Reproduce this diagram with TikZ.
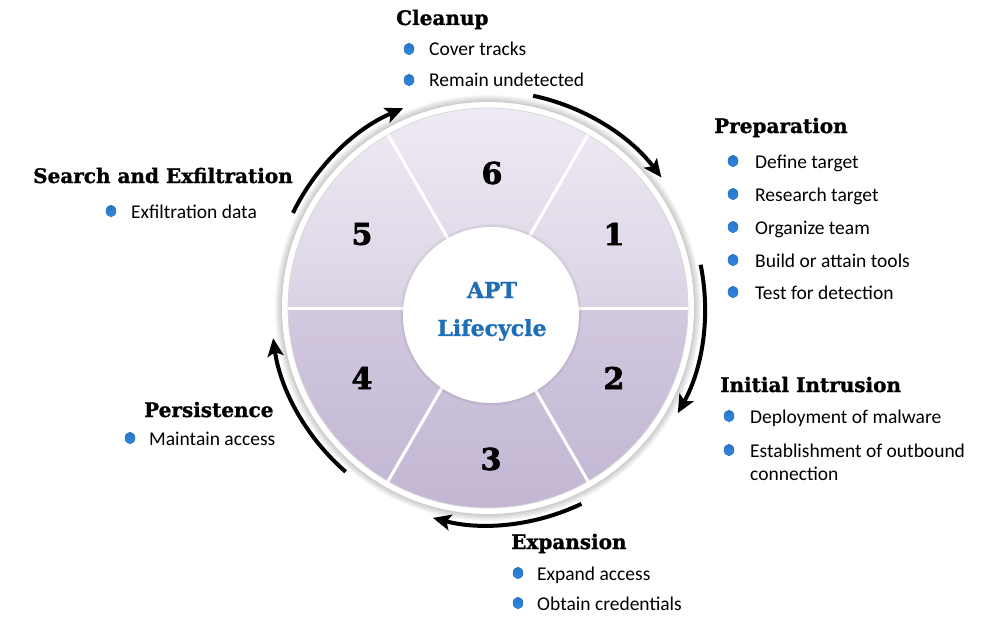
\documentclass[tikz,border=0pt]{standalone}
\usepackage{fontspec}
\setmainfont{Carlito}
\newfontfamily\slab[FakeBold=1.2]{DejaVu Serif}
\newfontfamily\slabheavy[FakeBold=2.2]{DejaVu Serif}
\usetikzlibrary{arrows.meta,shapes.geometric,calc}
\definecolor{uppertop}{HTML}{EFEBF4}
\definecolor{upperbot}{HTML}{DBD3E5}
\definecolor{lowertop}{HTML}{D2C8DF}
\definecolor{lowerbot}{HTML}{C2B6D3}
\definecolor{aptblue}{HTML}{1F6FB8}
\definecolor{bulblue}{HTML}{2F8AE6}
\begin{document}
\begin{tikzpicture}[x=1pt,y=-1pt,
  title/.style={anchor=base west, inner sep=0pt, font=\slab\bfseries\fontsize{20}{24}\selectfont},
  item/.style={anchor=base west, inner sep=0pt, font=\fontsize{19.5}{24}\selectfont},
  bul/.style={ellipse, minimum width=10pt, minimum height=11.5pt, inner sep=0pt,
    draw=bulblue!80!black, line width=0.5pt,
    top color=bulblue!85!black, middle color=white!75!bulblue, bottom color=bulblue},
  num/.style={inner sep=0pt, font=\slabheavy\bfseries\fontsize{30}{30}\selectfont},
  apt/.style={inner sep=0pt, text=aptblue, font=\slab\bfseries\fontsize{22}{26}\selectfont},
  divider/.style={white, line width=3pt},
  cyclearrow/.style={line width=4pt, -{Stealth[length=18pt,width=16pt,inset=4pt]}}]
\useasboundingbox (0,0) rectangle (999,618);
\coordinate (c) at (488,308);
\coordinate (hub) at (491,315);

% soft shadow round the disk
\foreach \r in {213,212,...,207}
  \fill[black, opacity=0.03] (c) circle (\r);
% white rim
\fill[white] (c) circle (206);

% lavender disk, upper and lower halves
\begin{scope}
  \clip (c) circle (200);
  \shade[top color=uppertop, bottom color=upperbot] (286,106) rectangle (690,308);
  \shade[top color=lowertop, bottom color=lowerbot] (286,308) rectangle (690,510);
\end{scope}
\draw[black!15, line width=0.8pt] (c) circle (200);

% spokes between the six sectors
\foreach \a in {0,60,120,180,240,300}
  \draw[divider] (c) -- ++(\a:200);

% central hub
\foreach \r in {91,90,89}
  \fill[black, opacity=0.025] (hub) circle (\r);
\fill[white] (hub) circle (88);
\node[apt] (apt) at (492,290) {APT};
\node[apt] (life) at (492,330) {Lifecycle};

% sector numbers
\node[num] (n6) at (492,173) {6};
\node[num] (n1) at (614,234) {1};
\node[num] (n5) at (362,234) {5};
\node[num] (n4) at (362,378) {4};
\node[num] (n2) at (614,378) {2};
\node[num] (n3) at (491,459) {3};

% cycle arrows
\coordinate (a1) at ($(c)+(-154:217)$);
\coordinate (a2) at ($(c)+(-78:217)$);
\coordinate (a3) at ($(c)+(-11.5:217)$);
\coordinate (a4) at ($(c)+(64.5:217)$);
\coordinate (a5) at ($(c)+(131:217)$);
\draw[cyclearrow] (a1) arc[start angle=-154, end angle=-113, radius=217];
\draw[cyclearrow] (a2) arc[start angle=-78, end angle=-37, radius=217];
\draw[cyclearrow] (a3) arc[start angle=-11.5, end angle=29, radius=217];
\draw[cyclearrow] (a4) arc[start angle=64.5, end angle=104.7, radius=217];
\draw[cyclearrow] (a5) arc[start angle=131, end angle=172, radius=217];

% Cleanup
\node[title] (t6) at (396,25) {Cleanup};
\node[bul] (b61) at (409,49) {};
\node[item] (i61) at (429,56) {Cover tracks};
\node[bul] (b62) at (409,80) {};
\node[item] (i62) at (429,87) {Remain undetected};

% Preparation
\node[title] (t1) at (714,133) {Preparation};
\node[bul] (b11) at (733,161) {};
\node[item] (i11) at (755,168) {Define target};
\node[bul] (b12) at (733,194) {};
\node[item] (i12) at (755,201) {Research target};
\node[bul] (b13) at (733,227) {};
\node[item] (i13) at (755,234) {Organize team};
\node[bul] (b14) at (733,260) {};
\node[item] (i14) at (755,267) {Build or attain tools};
\node[bul] (b15) at (733,292) {};
\node[item] (i15) at (755,299) {Test for detection};

% Initial Intrusion
\node[title] (t2) at (720,392) {Initial Intrusion};
\node[bul] (b21) at (729,416) {};
\node[item] (i21) at (750,423) {Deployment of malware};
\node[bul] (b22) at (729,450) {};
\node[item] (i22) at (750,457) {Establishment of outbound};
\node[item] (i22b) at (750,480) {connection};

% Expansion
\node[title] (t3) at (511,549) {Expansion};
\node[bul] (b31) at (518,573) {};
\node[item] (i31) at (537,580) {Expand access};
\node[bul] (b32) at (518,603) {};
\node[item] (i32) at (537,610) {Obtain credentials};

% Persistence
\node[title] (t4) at (144,417) {Persistence};
\node[bul] (b41) at (130,438) {};
\node[item] (i41) at (149,445) {Maintain access};

% Search and Exfiltration
\node[title] (t5) at (33,183) {Search and Exfiltration};
\node[bul] (b51) at (111,211) {};
\node[item] (i51) at (131,218) {Exfiltration data};
\end{tikzpicture}
\end{document}
